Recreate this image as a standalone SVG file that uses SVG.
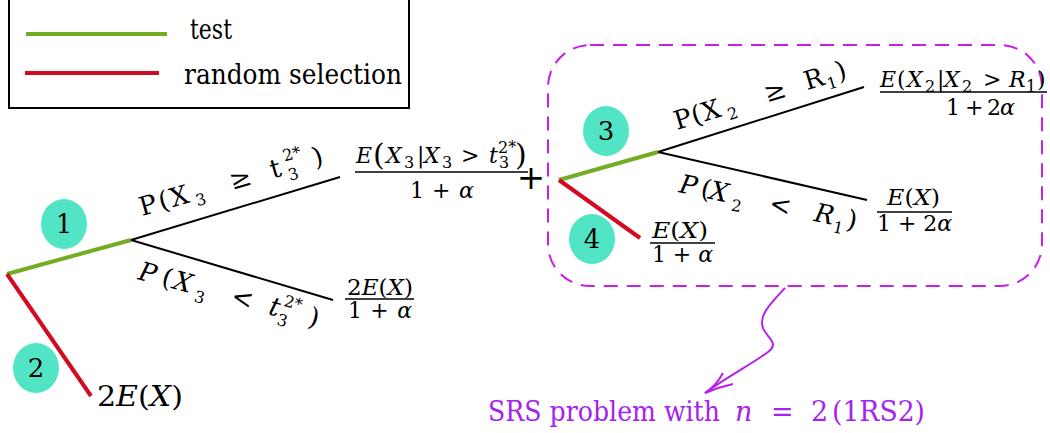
<svg xmlns="http://www.w3.org/2000/svg" width="1050" height="433" viewBox="0 0 1050 433" font-family="'DejaVu Serif', serif">
<style>
  text { font-family: 'DejaVu Serif', 'Liberation Serif', serif; fill: #000; }
  .lbl { font-size: 26px; }
  .frac { font-size: 22px; }
  .it { font-style: italic; }
  .sub { font-size: 16px; font-style: normal; }
  .up { font-style: normal; }
  .bar { stroke: #000; stroke-width: 1.3; }
  .blk { stroke: #000; stroke-width: 2; fill: none; }
  .grn { stroke: #72ad24; stroke-width: 4; fill: none; }
  .red { stroke: #d20a24; stroke-width: 4; fill: none; }
  .circ { fill: #52e5c5; }
  .num { font-size: 26px; text-anchor: middle; }
  .purp { fill: #a523ef; }
</style>
<rect x="0" y="0" width="1050" height="433" fill="#fff"/>

<g id="legend">
  <rect x="9" y="-2" width="400" height="110" fill="none" stroke="#000" stroke-width="2"/>
  <line x1="26" y1="34" x2="167" y2="34" class="grn"/>
  <line x1="25" y1="73" x2="159" y2="73" class="red"/>
  <text x="190" y="39" font-size="27" textLength="42" lengthAdjust="spacingAndGlyphs">test</text>
  <text x="184" y="84" font-size="27" textLength="218" lengthAdjust="spacingAndGlyphs">random selection</text>
</g>

<g id="connectors">
  <line x1="7" y1="274" x2="131" y2="240" class="grn"/>
  <line x1="7" y1="274" x2="91" y2="396" class="red"/>
  <line x1="131" y1="240" x2="340" y2="177" class="blk"/>
  <line x1="131" y1="240" x2="333" y2="300" class="blk"/>
  <line x1="559" y1="180" x2="658" y2="152" class="grn"/>
  <line x1="559" y1="180" x2="640" y2="238" class="red"/>
  <line x1="658" y1="152" x2="864" y2="87" class="blk"/>
  <line x1="658" y1="152" x2="867" y2="200" class="blk"/>
  <path d="M785,288 C772,302 758,315 763,328 C767,338 780,343 768,352 C755,362 725,378 705,393" fill="none" stroke="#b520ea" stroke-width="2"/>
  <path d="M723,373 Q716,386 705,393 Q719,387 733,384" fill="none" stroke="#b520ea" stroke-width="2"/>
</g>

<g id="group-box">
  <rect x="548" y="45" width="494" height="241" rx="42" ry="42" fill="none" stroke="#c81fe8" stroke-width="2" stroke-dasharray="14,9"/>
</g>

<g id="node1">
  <ellipse cx="64" cy="224" rx="23" ry="25" class="circ"/>
  <text x="64" y="233" class="num">1</text>
</g>
<g id="node2">
  <ellipse cx="36" cy="368" rx="23" ry="25" class="circ"/>
  <text x="36" y="377" class="num">2</text>
</g>
<g id="node3">
  <ellipse cx="606" cy="131" rx="23" ry="25" class="circ"/>
  <text x="606" y="140" class="num">3</text>
</g>
<g id="node4">
  <ellipse cx="592" cy="239" rx="23" ry="25" class="circ"/>
  <text x="592" y="248" class="num">4</text>
</g>

<g id="label-p-x3-ge">
  <text class="lbl" transform="translate(142,216) rotate(-16)"><tspan x="0" y="0">P</tspan><tspan x="20" y="0">(</tspan><tspan x="32" y="0">X</tspan><tspan x="56" y="6" class="sub">3</tspan><tspan x="94" y="0">≥</tspan><tspan x="136" y="0">t</tspan><tspan x="152" y="-13" class="sub">2*</tspan><tspan x="152" y="7" class="sub">3</tspan><tspan x="180" y="0">)</tspan></text>
</g>
<g id="label-p-x3-lt">
  <text class="lbl it" transform="translate(137,279) rotate(15)"><tspan x="0" y="0">P</tspan><tspan x="24" y="0" class="up">(</tspan><tspan x="36" y="0">X</tspan><tspan x="60" y="7" class="sub">3</tspan><tspan x="96" y="0" class="up">&lt;</tspan><tspan x="135" y="0">t</tspan><tspan x="148" y="-12" class="sub">2*</tspan><tspan x="146" y="8" class="sub">3</tspan><tspan x="176" y="0" class="up">)</tspan></text>
</g>
<g id="label-p-x2-ge">
  <text class="lbl" transform="translate(677,130) rotate(-17)"><tspan x="0" y="0">P</tspan><tspan x="18" y="0">(</tspan><tspan x="29" y="0">X</tspan><tspan x="53" y="6" class="sub">2</tspan><tspan x="94" y="0">≥</tspan><tspan x="136" y="0">R</tspan><tspan x="157" y="6" class="sub">1</tspan><tspan x="169" y="0">)</tspan></text>
</g>
<g id="label-p-x2-lt">
  <text class="lbl it" transform="translate(678,192) rotate(12)"><tspan x="0" y="0">P</tspan><tspan x="22" y="0" class="up">(</tspan><tspan x="31" y="0">X</tspan><tspan x="55" y="7" class="sub">2</tspan><tspan x="92" y="0" class="up">&lt;</tspan><tspan x="138" y="0">R</tspan><tspan x="159" y="7" class="sub">1</tspan><tspan x="171" y="0" class="up">)</tspan></text>
</g>

<g id="frac-top-left">
  <text class="frac it"><tspan x="356" y="163">E</tspan><tspan x="373" y="165" class="up" font-size="30">(</tspan><tspan x="386" y="163">X</tspan><tspan x="404" y="168" class="sub">3</tspan><tspan x="417" y="163" class="up">|</tspan><tspan x="424" y="163">X</tspan><tspan x="442" y="168" class="sub">3</tspan><tspan x="461" y="163" class="up">&gt;</tspan><tspan x="489" y="163">t</tspan><tspan x="498" y="153" class="sub">2*</tspan><tspan x="499" y="168" class="sub">3</tspan><tspan x="515" y="165" class="up" font-size="30">)</tspan></text>
  <line x1="355" y1="172" x2="528" y2="172" class="bar"/>
  <text class="frac"><tspan x="410" y="198">1</tspan><tspan x="432" y="198">+</tspan><tspan x="459" y="198" class="it">α</tspan></text>
</g>
<text id="plus" x="531" y="189" font-size="34" text-anchor="middle">+</text>

<g id="frac-2ex">
  <text class="frac" x="347" y="295" textLength="66" lengthAdjust="spacingAndGlyphs">2<tspan class="it">E</tspan>(<tspan class="it">X</tspan>)</text>
  <line x1="345" y1="299" x2="414" y2="299" class="bar"/>
  <text class="frac" x="348" y="318" textLength="64" lengthAdjust="spacing">1 + <tspan class="it">α</tspan></text>
</g>

<g id="leaf-2ex">
  <text x="97" y="406" font-size="27" textLength="86" lengthAdjust="spacingAndGlyphs">2<tspan class="it">E</tspan>(<tspan class="it">X</tspan>)</text>
</g>

<g id="frac-top-right">
  <text class="frac it"><tspan x="880" y="87">E</tspan><tspan x="897" y="87" class="up">(</tspan><tspan x="907" y="87">X</tspan><tspan x="925" y="92" class="sub">2</tspan><tspan x="937" y="87" class="up">|</tspan><tspan x="944" y="87">X</tspan><tspan x="962" y="92" class="sub">2</tspan><tspan x="983" y="87" class="up">&gt;</tspan><tspan x="1009" y="87">R</tspan><tspan x="1026" y="92" class="sub">1</tspan><tspan x="1037" y="87" class="up">)</tspan></text>
  <line x1="880" y1="92" x2="1047" y2="92" class="bar"/>
  <text class="frac"><tspan x="946" y="115">1</tspan><tspan x="965" y="115">+</tspan><tspan x="987" y="115">2</tspan><tspan x="1000" y="115" class="it">α</tspan></text>
</g>

<g id="frac-bottom-right">
  <text class="frac" x="887" y="205" textLength="53" lengthAdjust="spacingAndGlyphs"><tspan class="it">E</tspan>(<tspan class="it">X</tspan>)</text>
  <line x1="877" y1="212" x2="952" y2="212" class="bar"/>
  <text class="frac" x="877" y="231" textLength="75" lengthAdjust="spacing">1 + 2<tspan class="it">α</tspan></text>
</g>

<g id="frac-node4">
  <text class="frac" x="652" y="238" textLength="56" lengthAdjust="spacingAndGlyphs"><tspan class="it">E</tspan>(<tspan class="it">X</tspan>)</text>
  <line x1="650" y1="243" x2="715" y2="243" class="bar"/>
  <text class="frac" x="652" y="262" textLength="61" lengthAdjust="spacing">1 + <tspan class="it">α</tspan></text>
</g>

<g id="srs-label">
  <text class="purp" font-size="27"><tspan x="488" y="421" textLength="232" lengthAdjust="spacingAndGlyphs">SRS problem with</tspan><tspan x="735" y="421" class="it">n</tspan><tspan x="771" y="421">=</tspan><tspan x="811" y="421">2</tspan><tspan x="832" y="421" textLength="93" lengthAdjust="spacingAndGlyphs">(1RS2)</tspan></text>
</g>
</svg>
